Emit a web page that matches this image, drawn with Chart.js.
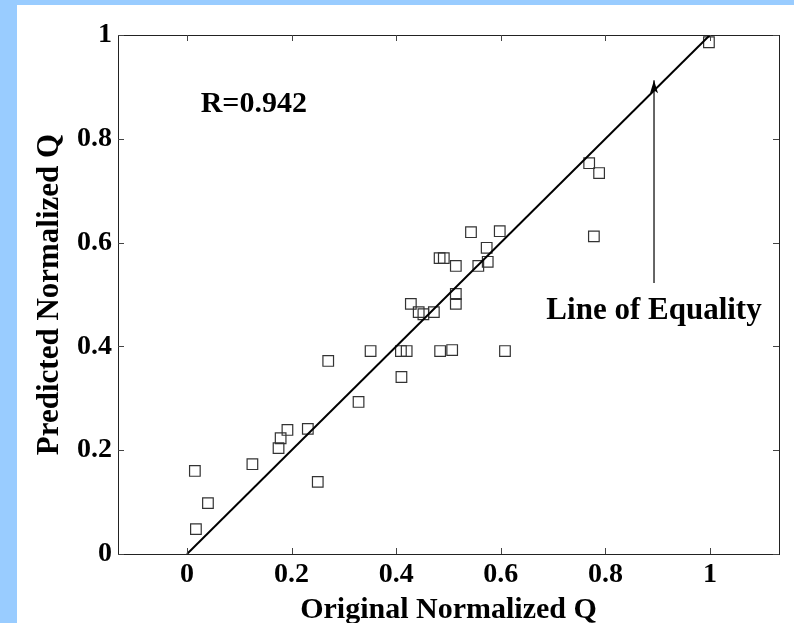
<!DOCTYPE html>
<html>
<head>
<meta charset="utf-8">
<script src="https://cdn.jsdelivr.net/npm/chart.js@4/dist/chart.umd.min.js"></script>
<style>
  html, body { margin: 0; padding: 0; background: #99CCFF; width: 794px; height: 623px; overflow: hidden; }
  #wrap { position: absolute; left: 17px; top: 5px; width: 777px; height: 618px; background: #ffffff; }
  canvas { display: block; }
</style>
</head>
<body>
<div id="wrap"><canvas id="c" width="777" height="618"></canvas></div>
<script>
// ---- data ----
const originalQ = [0.015, 0.017, 0.040, 0.125, 0.175, 0.179, 0.192, 0.231, 0.250, 0.270,
  0.328, 0.351, 0.410, 0.409, 0.420, 0.428, 0.443, 0.452, 0.472, 0.484,
  0.483, 0.491, 0.507, 0.514, 0.514, 0.514, 0.543, 0.557, 0.573, 0.575,
  0.598, 0.608, 0.769, 0.788, 0.778, 0.998];
const predictedQ = [0.160, 0.048, 0.098, 0.173, 0.204, 0.223, 0.239, 0.241, 0.139, 0.372,
  0.293, 0.391, 0.341, 0.391, 0.391, 0.482, 0.466, 0.462, 0.466, 0.391,
  0.570, 0.570, 0.393, 0.482, 0.501, 0.555, 0.620, 0.555, 0.590, 0.563,
  0.622, 0.391, 0.753, 0.734, 0.612, 0.986];
const equalityX = [0, 1];
const equalityY = [0, 1];
const tickValues = [0, 0.2, 0.4, 0.6, 0.8, 1];
const tickLabels = ['0', '0.2', '0.4', '0.6', '0.8', '1'];
const xRange = [-0.132, 1.132];
const yRange = [0, 1];
const rText = 'R=0.942';
const rTextPos = [0.026, 0.852];
const arrowX = 0.893;
const arrowY = [0.522, 0.913];
const arrowLabel = 'Line of Equality';
const arrowLabelY = 0.453;

const FONT = '"Liberation Serif", "Times New Roman", serif';

const scatterPts = originalQ.map((x, i) => ({ x: x, y: predictedQ[i] }));
const eqPts = equalityX.map((x, i) => ({ x: x, y: equalityY[i] }));
const arrowPts = arrowY.map(y => ({ x: arrowX, y: y }));

const framePlugin = {
  id: 'frame',
  afterDatasetsDraw(chart) {
    const { ctx, chartArea: a, scales: { x, y } } = chart;
    ctx.save();
    // arrow head
    const tx = x.getPixelForValue(arrowX), ty = y.getPixelForValue(arrowY[1]);
    ctx.fillStyle = '#000';
    ctx.beginPath();
    ctx.moveTo(tx, ty);
    ctx.lineTo(tx - 4, ty + 13);
    ctx.lineTo(tx, ty + 10);
    ctx.lineTo(tx + 4, ty + 13);
    ctx.closePath();
    ctx.fill();
    // frame
    ctx.strokeStyle = '#222';
    ctx.lineWidth = 1;
    ctx.strokeRect(Math.round(a.left) + 0.5, Math.round(a.top) + 0.5,
      Math.round(a.right - a.left), Math.round(a.bottom - a.top));
    // inward ticks
    ctx.strokeStyle = '#444';
    ctx.beginPath();
    tickValues.forEach(v => {
      const px = Math.round(x.getPixelForValue(v)) + 0.5;
      ctx.moveTo(px, a.bottom); ctx.lineTo(px, a.bottom - 6);
      ctx.moveTo(px, a.top); ctx.lineTo(px, a.top + 6);
      const py = Math.round(y.getPixelForValue(v)) + 0.5;
      ctx.moveTo(a.left, py); ctx.lineTo(a.left + 6, py);
      ctx.moveTo(a.right, py); ctx.lineTo(a.right - 6, py);
    });
    ctx.stroke();
    // texts
    ctx.fillStyle = '#000';
    ctx.textBaseline = 'alphabetic';
    ctx.font = 'bold 30px ' + FONT;
    ctx.textAlign = 'left';
    ctx.fillText(rText, x.getPixelForValue(rTextPos[0]), y.getPixelForValue(rTextPos[1]));
    ctx.font = 'bold 31px ' + FONT;
    ctx.textAlign = 'center';
    ctx.fillText(arrowLabel, x.getPixelForValue(arrowX), y.getPixelForValue(arrowLabelY));
    ctx.restore();
  }
};

new Chart(document.getElementById('c'), {
  type: 'scatter',
  data: {
    datasets: [
      {
        data: eqPts, showLine: true, borderColor: '#000', borderWidth: 2,
        pointRadius: 0, fill: false
      },
      {
        data: arrowPts, showLine: true, borderColor: '#333', borderWidth: 1.5,
        pointRadius: 0, fill: false
      },
      {
        data: scatterPts, pointStyle: 'rect', pointRadius: 7.5,
        borderColor: '#333', borderWidth: 1.2, backgroundColor: 'rgba(0,0,0,0)'
      }
    ]
  },
  options: {
    responsive: false,
    animation: false,
    devicePixelRatio: 1,
    layout: { padding: { left: 0, top: 30, right: 15, bottom: 0 } },
    plugins: { legend: { display: false }, tooltip: { enabled: false } },
    scales: {
      x: {
        type: 'linear', min: xRange[0], max: xRange[1],
        grid: { display: false, drawTicks: false }, border: { display: false },
        afterBuildTicks(s) { s.ticks = tickValues.map(v => ({ value: v })); },
        afterFit(s) { s.height = 69; },
        ticks: {
          padding: 4, color: '#000', maxRotation: 0,
          font: { family: FONT, size: 28, weight: 'bold' },
          callback: (v) => tickLabels[tickValues.indexOf(v)] ?? ''
        },
        title: {
          display: true, text: 'Original Normalized Q', color: '#000',
          font: { family: FONT, size: 30, weight: 'bold', lineHeight: 0.8 },
          padding: { top: 0, bottom: 1 }
        }
      },
      y: {
        type: 'linear', min: yRange[0], max: yRange[1],
        grid: { display: false, drawTicks: false }, border: { display: false },
        afterBuildTicks(s) { s.ticks = tickValues.map(v => ({ value: v })); },
        afterFit(s) { s.width = 101; },
        ticks: {
          padding: 6, color: '#000',
          font: { family: FONT, size: 28, weight: 'bold' },
          callback: (v) => tickLabels[tickValues.indexOf(v)] ?? ''
        },
        title: {
          display: true, text: 'Predicted Normalized Q', color: '#000',
          font: { family: FONT, size: 31, weight: 'bold', lineHeight: 1.2 },
          padding: { top: 14, bottom: 0 }
        }
      }
    }
  },
  plugins: [framePlugin]
});
</script>
</body>
</html>
